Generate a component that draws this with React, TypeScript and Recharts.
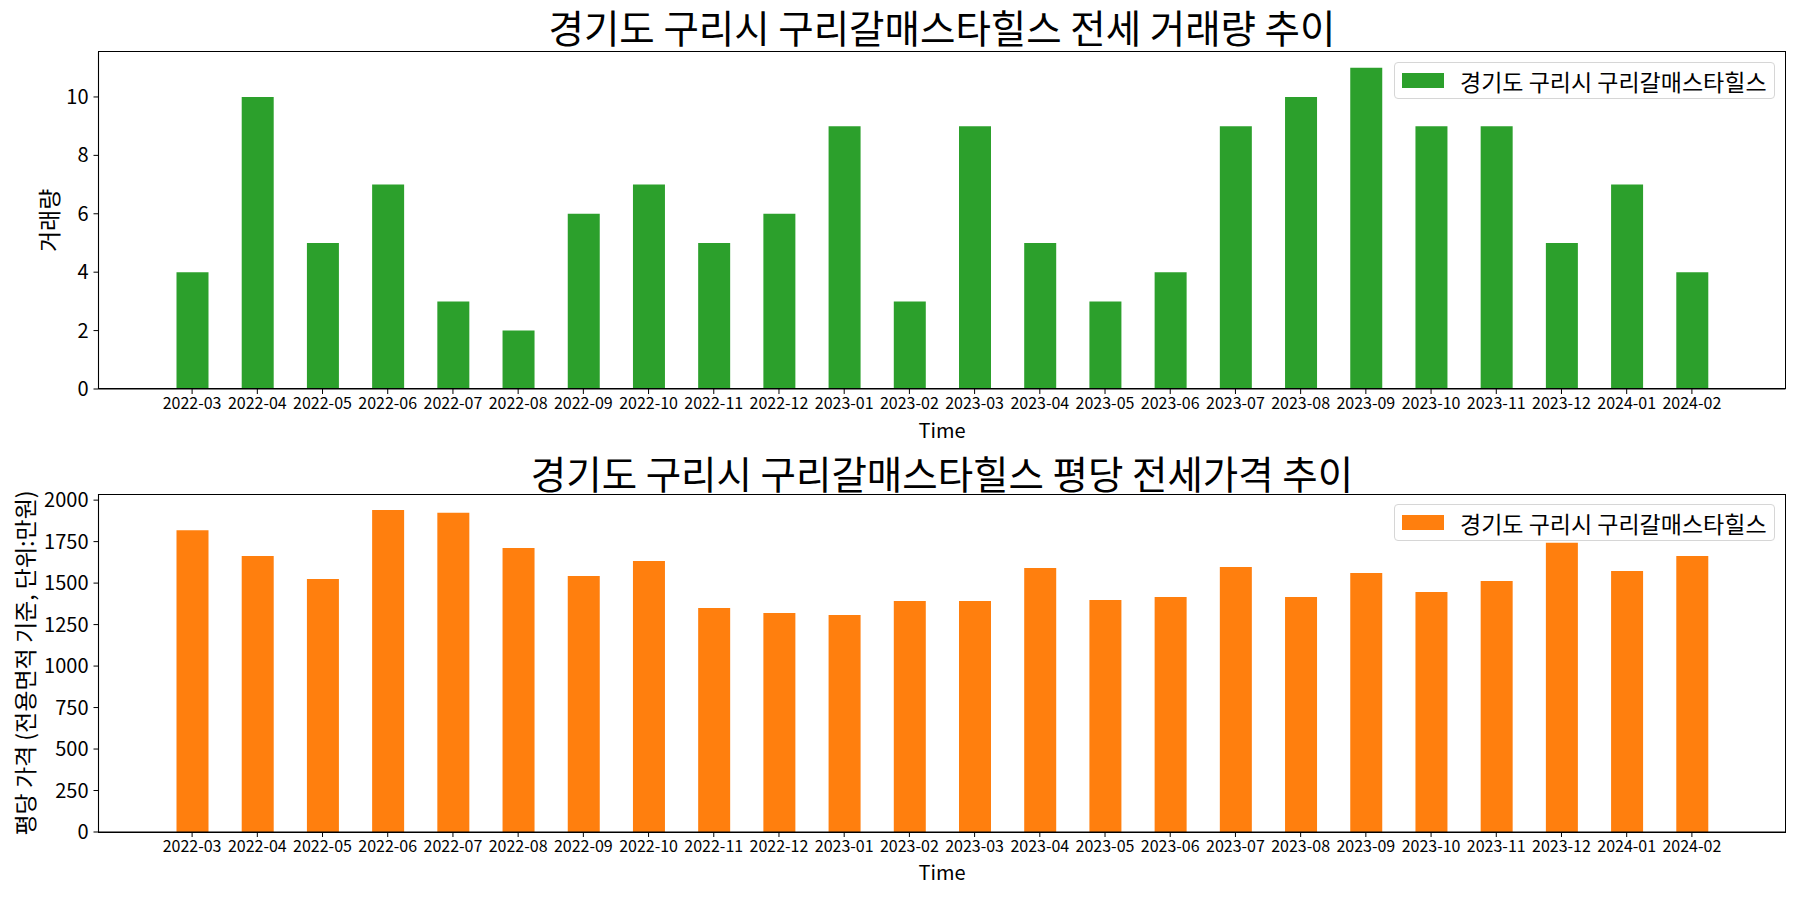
import React from 'react';
import { BarChart, Bar, XAxis, YAxis } from 'recharts';

const months = [
  '2022-03', '2022-04', '2022-05', '2022-06', '2022-07', '2022-08',
  '2022-09', '2022-10', '2022-11', '2022-12', '2023-01', '2023-02',
  '2023-03', '2023-04', '2023-05', '2023-06', '2023-07', '2023-08',
  '2023-09', '2023-10', '2023-11', '2023-12', '2024-01', '2024-02',
];
const volume = [4, 10, 5, 7, 3, 2, 6, 7, 5, 6, 9, 3, 9, 5, 3, 4, 9, 10, 11, 9, 9, 5, 7, 4];
const price = [
  1819, 1663, 1525, 1940, 1924, 1711, 1543, 1633, 1350, 1320, 1308, 1392,
  1392, 1591, 1398, 1416, 1597, 1416, 1561, 1446, 1512, 1743, 1573, 1663,
];
const volumeTicks = [0, 2, 4, 6, 8, 10];
const priceTicks = [0, 250, 500, 750, 1000, 1250, 1500, 1750, 2000];

const seriesName = '경기도 구리시 구리갈매스타힐스';
const FONT = '"Noto Sans CJK KR", "Noto Sans", sans-serif';
const GREEN = '#2ca02c';
const ORANGE = '#ff7f0e';

const volumeData = months.map((m, i) => ({ month: m, value: volume[i] }));
const priceData = months.map((m, i) => ({ month: m, value: price[i] }));

const PLOT_LEFT = 98.5;
const PLOT_RIGHT_GAP = 14.5;

function LegendBox({ color, top }: { color: string; top: number }) {
  return (
    <div
      style={{
        position: 'absolute',
        top,
        left: 1394,
        width: 381,
        height: 37,
        boxSizing: 'border-box',
        display: 'flex',
        alignItems: 'center',
        border: '1px solid #d6d6d6',
        borderRadius: 4,
        background: 'rgba(255,255,255,0.8)',
        paddingLeft: 7,
        fontFamily: FONT,
        fontSize: 23,
        color: '#000',
      }}
    >
      <div style={{ width: 42, height: 15, background: color, flex: 'none' }} />
      <span style={{ marginLeft: 16, whiteSpace: 'nowrap' }}>{seriesName}</span>
    </div>
  );
}

interface PanelProps {
  title: string;
  data: Array<{ month: string; value: number }>;
  color: string;
  ticks: number[];
  domainMax: number;
  yLabel: string;
  yLabelX: number;
  marginTop: number;
  xAxisHeight: number;
  timeOffset: number;
  titleTop: number;
  legendTop: number;
}

function Panel(p: PanelProps) {
  const plotHeight = 450 - p.marginTop - p.xAxisHeight;
  return (
    <div style={{ position: 'relative', width: 1800, height: 450 }}>
      <div
        style={{
          position: 'absolute',
          top: p.titleTop,
          left: PLOT_LEFT,
          width: 1800 - PLOT_LEFT - PLOT_RIGHT_GAP,
          textAlign: 'center',
          fontFamily: FONT,
          fontSize: 38.5,
          lineHeight: '44px',
          color: '#000',
          whiteSpace: 'nowrap',
        }}
      >
        {p.title}
      </div>
      <BarChart
        width={1800}
        height={450}
        data={p.data}
        margin={{ top: p.marginTop, right: PLOT_RIGHT_GAP, left: 0, bottom: 0 }}
        barCategoryGap={0}
      >
        <XAxis
          dataKey="month"
          height={p.xAxisHeight}
          interval={0}
          padding={{ left: 61, right: 61 }}
          axisLine={{ stroke: '#000', strokeWidth: 1.1 }}
          tickLine={{ stroke: '#000' }}
          tickSize={5}
          tickMargin={4}
          tick={{ fill: '#000', fontSize: 16, fontFamily: FONT }}
          label={{ value: 'Time', position: 'insideBottom', offset: p.timeOffset, fill: '#000', fontSize: 20, fontFamily: FONT }}
        />
        <YAxis
          width={PLOT_LEFT}
          domain={[0, p.domainMax]}
          ticks={p.ticks}
          interval={0}
          axisLine={{ stroke: '#000', strokeWidth: 1.1 }}
          tickLine={{ stroke: '#000' }}
          tickSize={5}
          tickMargin={5}
          tick={{ fill: '#000', fontSize: 20, fontFamily: FONT }}
          label={{
            content: (props: any) => {
              const vb = props.viewBox || { x: 0, y: 0, width: 0, height: 0 };
              const cx = vb.x + p.yLabelX;
              const cy = vb.y + vb.height / 2;
              return (
                <text
                  x={cx}
                  y={cy}
                  transform={`rotate(-90 ${cx} ${cy})`}
                  textAnchor="middle"
                  dominantBaseline="central"
                  fill="#000"
                  fontSize={23}
                  fontFamily={FONT}
                >
                  {p.yLabel}
                </text>
              );
            },
          }}
        />
        <Bar dataKey="value" name={seriesName} fill={p.color} barSize={32} isAnimationActive={false} />
      </BarChart>
      {/* axes frame (top and right spines) */}
      <div
        style={{
          position: 'absolute',
          left: PLOT_LEFT - 0.5,
          top: p.marginTop - 0.5,
          width: 1800 - PLOT_LEFT - PLOT_RIGHT_GAP + 1,
          height: plotHeight + 1,
          boxSizing: 'border-box',
          border: '1px solid #000',
          pointerEvents: 'none',
        }}
      />
      <LegendBox color={p.color} top={p.legendTop} />
    </div>
  );
}

export default function App() {
  return (
    <div style={{ position: 'absolute', left: 0, top: 0, width: 1800, height: 900, background: '#fff' }}>
      <Panel
        title="경기도 구리시 구리갈매스타힐스 전세 거래량 추이"
        data={volumeData}
        color={GREEN}
        ticks={volumeTicks}
        domainMax={11.55}
        yLabel="거래량"
        yLabelX={48}
        marginTop={51.7}
        xAxisHeight={61}
        timeOffset={12}
        titleTop={4}
        legendTop={62}
      />
      <Panel
        title="경기도 구리시 구리갈매스타힐스 평당 전세가격 추이"
        data={priceData}
        color={ORANGE}
        ticks={priceTicks}
        domainMax={2037}
        yLabel="평당 가격 (전용면적 기준, 단위:만원)"
        yLabelX={24}
        marginTop={44}
        xAxisHeight={68}
        timeOffset={20}
        titleTop={0}
        legendTop={54}
      />
    </div>
  );
}
